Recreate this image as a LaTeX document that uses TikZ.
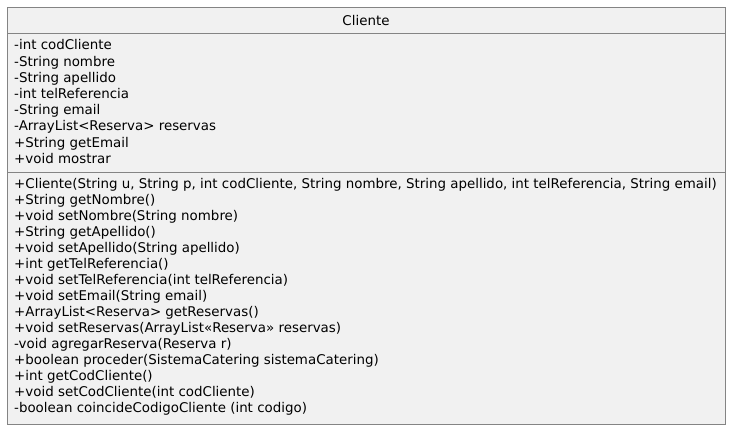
\documentclass[tikz,border=0pt]{standalone}
\usepackage{fontspec}
\setmainfont{DejaVu Sans}
\definecolor{boxfill}{HTML}{F1F1F1}
\definecolor{boxline}{HTML}{848484}
\begin{document}
\begin{tikzpicture}[x=1pt,y=-1pt,
  member/.style={anchor=base west,inner sep=0pt,font=\fontsize{13.4}{15}\selectfont,text=black},
  classbox/.style={draw=boxline,fill=boxfill,line width=1pt}]
\useasboundingbox (0,0) rectangle (738,437);
\node[classbox,minimum width=718pt,minimum height=417pt,anchor=north west,inner sep=0pt] (cls) at (7,7) {};
\draw[boxline,line width=1pt] (7,33) coordinate (s1a) -- (725,33) coordinate (s1b);
\draw[boxline,line width=1pt] (7,172) coordinate (s2a) -- (725,172) coordinate (s2b);
\node[member,anchor=base] (title) at (366,25) {Cliente};
\foreach \t [count=\i] in {
 {-int codCliente},
 {-String nombre},
 {-String apellido},
 {-int telReferencia},
 {-String email},
 {-ArrayList<Reserva> reservas},
 {+String getEmail},
 {+void mostrar}}
 \node[member] (a\i) at (14,{49.8+16.2*(\i-1)}) {\t};
\foreach \t [count=\i] in {
 {+Cliente(String u, String p, int codCliente, String nombre, String apellido, int telReferencia, String email)},
 {+String getNombre()},
 {+void setNombre(String nombre)},
 {+String getApellido()},
 {+void setApellido(String apellido)},
 {+int getTelReferencia()},
 {+void setTelReferencia(int telReferencia)},
 {+void setEmail(String email)},
 {+ArrayList<Reserva> getReservas()},
 {+void setReservas(ArrayList«Reserva» reservas)},
 {-void agregarReserva(Reserva r)},
 {+boolean proceder(SistemaCatering sistemaCatering)},
 {+int getCodCliente()},
 {+void setCodCliente(int codCliente)},
 {-boolean coincideCodigoCliente (int codigo)}}
 \node[member] (m\i) at (14,{188+16.07*(\i-1)}) {\t};
\end{tikzpicture}
\end{document}
